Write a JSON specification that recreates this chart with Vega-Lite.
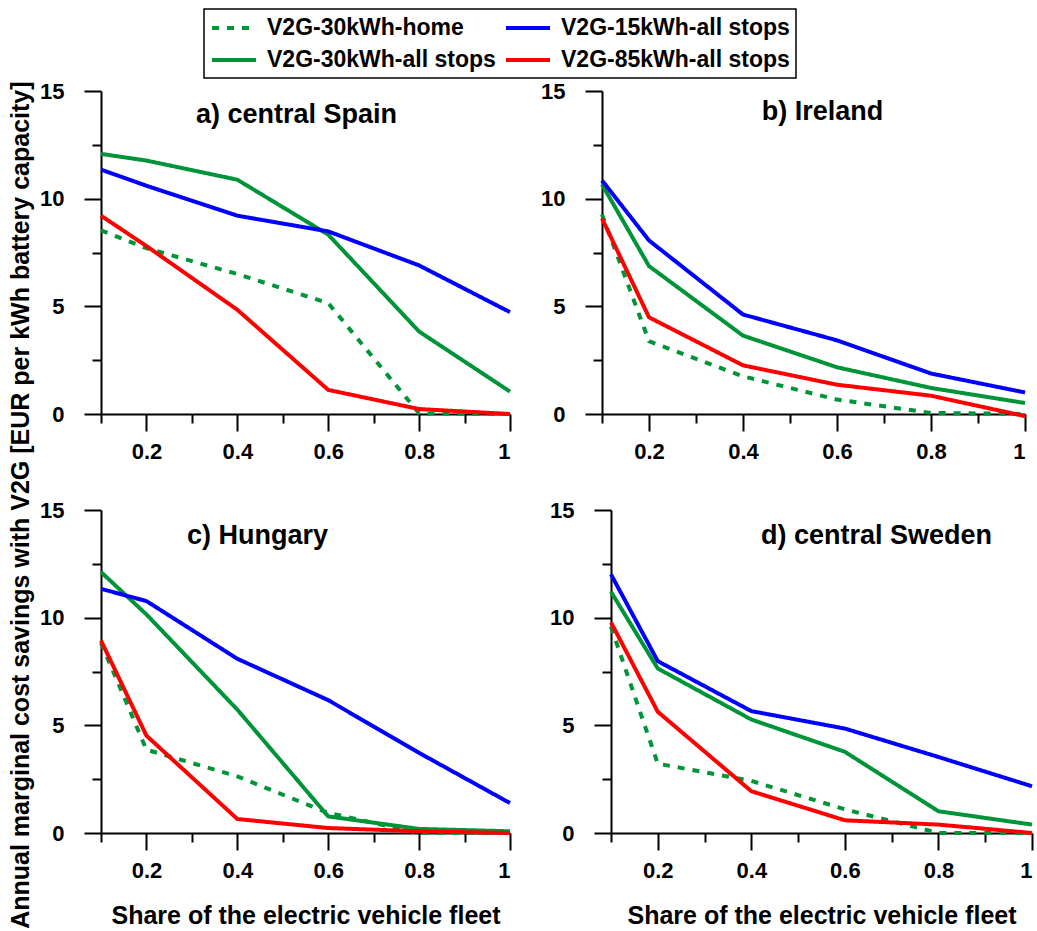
{
  "$schema": "https://vega.github.io/schema/vega-lite/v6.json",
  "background": "white",
  "padding": {"left": 8, "top": 8, "right": 0, "bottom": 0},
  "title": {"text": "Annual marginal cost savings with V2G [EUR per kWh battery capacity]", "orient": "left", "anchor": "middle", "frame": "bounds", "dx": -37, "fontSize": 25, "font": "Liberation Sans", "fontWeight": "bold", "color": "black", "offset": 6},
  "datasets": {
    "v2g": [
      {"region":"Spain","series":"V2G-30kWh-home","share":0.1,"value":8.53},
      {"region":"Spain","series":"V2G-30kWh-home","share":0.2,"value":7.7},
      {"region":"Spain","series":"V2G-30kWh-home","share":0.4,"value":6.5},
      {"region":"Spain","series":"V2G-30kWh-home","share":0.6,"value":5.15},
      {"region":"Spain","series":"V2G-30kWh-home","share":0.8,"value":0.03},
      {"region":"Spain","series":"V2G-30kWh-home","share":1,"value":0},
      {"region":"Spain","series":"V2G-30kWh-all stops","share":0.1,"value":12.08},
      {"region":"Spain","series":"V2G-30kWh-all stops","share":0.2,"value":11.77},
      {"region":"Spain","series":"V2G-30kWh-all stops","share":0.4,"value":10.88},
      {"region":"Spain","series":"V2G-30kWh-all stops","share":0.6,"value":8.33},
      {"region":"Spain","series":"V2G-30kWh-all stops","share":0.8,"value":3.83},
      {"region":"Spain","series":"V2G-30kWh-all stops","share":1,"value":1.04},
      {"region":"Spain","series":"V2G-15kWh-all stops","share":0.1,"value":11.35},
      {"region":"Spain","series":"V2G-15kWh-all stops","share":0.2,"value":10.6},
      {"region":"Spain","series":"V2G-15kWh-all stops","share":0.4,"value":9.21},
      {"region":"Spain","series":"V2G-15kWh-all stops","share":0.6,"value":8.48},
      {"region":"Spain","series":"V2G-15kWh-all stops","share":0.8,"value":6.9},
      {"region":"Spain","series":"V2G-15kWh-all stops","share":1,"value":4.73},
      {"region":"Spain","series":"V2G-85kWh-all stops","share":0.1,"value":9.21},
      {"region":"Spain","series":"V2G-85kWh-all stops","share":0.2,"value":7.8},
      {"region":"Spain","series":"V2G-85kWh-all stops","share":0.4,"value":4.84},
      {"region":"Spain","series":"V2G-85kWh-all stops","share":0.6,"value":1.12},
      {"region":"Spain","series":"V2G-85kWh-all stops","share":0.8,"value":0.23},
      {"region":"Spain","series":"V2G-85kWh-all stops","share":1,"value":0},

      {"region":"Ireland","series":"V2G-30kWh-home","share":0.1,"value":9.27},
      {"region":"Ireland","series":"V2G-30kWh-home","share":0.2,"value":3.38},
      {"region":"Ireland","series":"V2G-30kWh-home","share":0.4,"value":1.75},
      {"region":"Ireland","series":"V2G-30kWh-home","share":0.6,"value":0.67},
      {"region":"Ireland","series":"V2G-30kWh-home","share":0.8,"value":0.05},
      {"region":"Ireland","series":"V2G-30kWh-home","share":1,"value":0},
      {"region":"Ireland","series":"V2G-30kWh-all stops","share":0.1,"value":10.66},
      {"region":"Ireland","series":"V2G-30kWh-all stops","share":0.2,"value":6.87},
      {"region":"Ireland","series":"V2G-30kWh-all stops","share":0.4,"value":3.64},
      {"region":"Ireland","series":"V2G-30kWh-all stops","share":0.6,"value":2.17},
      {"region":"Ireland","series":"V2G-30kWh-all stops","share":0.8,"value":1.21},
      {"region":"Ireland","series":"V2G-30kWh-all stops","share":1,"value":0.51},
      {"region":"Ireland","series":"V2G-15kWh-all stops","share":0.1,"value":10.85},
      {"region":"Ireland","series":"V2G-15kWh-all stops","share":0.2,"value":8.06},
      {"region":"Ireland","series":"V2G-15kWh-all stops","share":0.4,"value":4.62},
      {"region":"Ireland","series":"V2G-15kWh-all stops","share":0.6,"value":3.42},
      {"region":"Ireland","series":"V2G-15kWh-all stops","share":0.8,"value":1.88},
      {"region":"Ireland","series":"V2G-15kWh-all stops","share":1,"value":1.0},
      {"region":"Ireland","series":"V2G-85kWh-all stops","share":0.1,"value":9.08},
      {"region":"Ireland","series":"V2G-85kWh-all stops","share":0.2,"value":4.49},
      {"region":"Ireland","series":"V2G-85kWh-all stops","share":0.4,"value":2.26},
      {"region":"Ireland","series":"V2G-85kWh-all stops","share":0.6,"value":1.36},
      {"region":"Ireland","series":"V2G-85kWh-all stops","share":0.8,"value":0.85},
      {"region":"Ireland","series":"V2G-85kWh-all stops","share":1,"value":-0.1},

      {"region":"Hungary","series":"V2G-30kWh-home","share":0.1,"value":8.83},
      {"region":"Hungary","series":"V2G-30kWh-home","share":0.2,"value":3.87},
      {"region":"Hungary","series":"V2G-30kWh-home","share":0.4,"value":2.63},
      {"region":"Hungary","series":"V2G-30kWh-home","share":0.6,"value":0.93},
      {"region":"Hungary","series":"V2G-30kWh-home","share":0.8,"value":0},
      {"region":"Hungary","series":"V2G-30kWh-home","share":1,"value":0},
      {"region":"Hungary","series":"V2G-30kWh-all stops","share":0.1,"value":12.12},
      {"region":"Hungary","series":"V2G-30kWh-all stops","share":0.2,"value":10.15},
      {"region":"Hungary","series":"V2G-30kWh-all stops","share":0.4,"value":5.73},
      {"region":"Hungary","series":"V2G-30kWh-all stops","share":0.6,"value":0.77},
      {"region":"Hungary","series":"V2G-30kWh-all stops","share":0.8,"value":0.19},
      {"region":"Hungary","series":"V2G-30kWh-all stops","share":1,"value":0.08},
      {"region":"Hungary","series":"V2G-15kWh-all stops","share":0.1,"value":11.34},
      {"region":"Hungary","series":"V2G-15kWh-all stops","share":0.2,"value":10.77},
      {"region":"Hungary","series":"V2G-15kWh-all stops","share":0.4,"value":8.09},
      {"region":"Hungary","series":"V2G-15kWh-all stops","share":0.6,"value":6.17},
      {"region":"Hungary","series":"V2G-15kWh-all stops","share":0.8,"value":3.72},
      {"region":"Hungary","series":"V2G-15kWh-all stops","share":1,"value":1.39},
      {"region":"Hungary","series":"V2G-85kWh-all stops","share":0.1,"value":8.94},
      {"region":"Hungary","series":"V2G-85kWh-all stops","share":0.2,"value":4.52},
      {"region":"Hungary","series":"V2G-85kWh-all stops","share":0.4,"value":0.65},
      {"region":"Hungary","series":"V2G-85kWh-all stops","share":0.6,"value":0.23},
      {"region":"Hungary","series":"V2G-85kWh-all stops","share":0.8,"value":0.08},
      {"region":"Hungary","series":"V2G-85kWh-all stops","share":1,"value":0},

      {"region":"Sweden","series":"V2G-30kWh-home","share":0.1,"value":9.58},
      {"region":"Sweden","series":"V2G-30kWh-home","share":0.2,"value":3.22},
      {"region":"Sweden","series":"V2G-30kWh-home","share":0.4,"value":2.42},
      {"region":"Sweden","series":"V2G-30kWh-home","share":0.6,"value":1.1},
      {"region":"Sweden","series":"V2G-30kWh-home","share":0.8,"value":0},
      {"region":"Sweden","series":"V2G-30kWh-home","share":1,"value":0},
      {"region":"Sweden","series":"V2G-30kWh-all stops","share":0.1,"value":11.2},
      {"region":"Sweden","series":"V2G-30kWh-all stops","share":0.2,"value":7.64},
      {"region":"Sweden","series":"V2G-30kWh-all stops","share":0.4,"value":5.27},
      {"region":"Sweden","series":"V2G-30kWh-all stops","share":0.6,"value":3.77},
      {"region":"Sweden","series":"V2G-30kWh-all stops","share":0.8,"value":1.01},
      {"region":"Sweden","series":"V2G-30kWh-all stops","share":1,"value":0.39},
      {"region":"Sweden","series":"V2G-15kWh-all stops","share":0.1,"value":12.01},
      {"region":"Sweden","series":"V2G-15kWh-all stops","share":0.2,"value":7.98},
      {"region":"Sweden","series":"V2G-15kWh-all stops","share":0.4,"value":5.66},
      {"region":"Sweden","series":"V2G-15kWh-all stops","share":0.6,"value":4.85},
      {"region":"Sweden","series":"V2G-15kWh-all stops","share":0.8,"value":3.53},
      {"region":"Sweden","series":"V2G-15kWh-all stops","share":1,"value":2.17},
      {"region":"Sweden","series":"V2G-85kWh-all stops","share":0.1,"value":9.78},
      {"region":"Sweden","series":"V2G-85kWh-all stops","share":0.2,"value":5.63},
      {"region":"Sweden","series":"V2G-85kWh-all stops","share":0.4,"value":1.94},
      {"region":"Sweden","series":"V2G-85kWh-all stops","share":0.6,"value":0.59},
      {"region":"Sweden","series":"V2G-85kWh-all stops","share":0.8,"value":0.39},
      {"region":"Sweden","series":"V2G-85kWh-all stops","share":1,"value":0}
    ]
  },
  "data": {"name": "v2g"},
  "spacing": 37,
  "vconcat": [
    {
      "spacing": 22,
      "hconcat": [
        {
          "width": 409, "height": 323,
          "title": {"text": "a) central Spain", "dx": -9, "dy": 53},
          "transform": [{"filter": "datum.region == 'Spain'"}],
          "mark": {"type": "line", "strokeWidth": 4, "clip": false},
          "encoding": {
            "x": {"field": "share", "type": "quantitative", "scale": {"domain": [0.1, 1], "nice": false, "zero": false},
                  "axis": {"title": null, "values": [0.1,0.2,0.3,0.4,0.5,0.6,0.7,0.8,0.9,1],
                           "labelExpr": "(datum.value==0.2||datum.value==0.4||datum.value==0.6||datum.value==0.8||datum.value==1) ? format(datum.value,'~g') : ''",
                           "tickSize": {"condition": {"test": "datum.value==0.2||datum.value==0.4||datum.value==0.6||datum.value==0.8||datum.value==1", "value": 17}, "value": 9}}},
            "y": {"field": "value", "type": "quantitative", "scale": {"domain": [0, 15], "nice": false},
                  "axis": {"title": null, "values": [0,2.5,5,7.5,10,12.5,15],
                           "labelExpr": "datum.value % 5 == 0 ? format(datum.value,'d') : ''",
                           "tickSize": {"condition": {"test": "datum.value % 5 == 0", "value": 17}, "value": 9}}},
            "color": {"field": "series", "type": "nominal",
                      "scale": {"domain": ["V2G-30kWh-home","V2G-30kWh-all stops","V2G-15kWh-all stops","V2G-85kWh-all stops"], "range": ["#009438","#009438","#0000ff","#ff0000"]},
                      "legend": {"title": null, "orient": "none", "legendX": 103, "legendY": -82, "columns": 2}},
            "strokeDash": {"field": "series", "type": "nominal",
                      "scale": {"domain": ["V2G-30kWh-home","V2G-30kWh-all stops","V2G-15kWh-all stops","V2G-85kWh-all stops"], "range": [[7,8],[1,0],[1,0],[1,0]]},
                      "legend": {"title": null, "orient": "none", "legendX": 103, "legendY": -82, "columns": 2}}
          }
        },
        {
          "width": 423, "height": 323,
          "title": {"text": "b) Ireland", "dx": 9, "dy": 50},
          "transform": [{"filter": "datum.region == 'Ireland'"}],
          "mark": {"type": "line", "strokeWidth": 4, "clip": false},
          "encoding": {
            "x": {"field": "share", "type": "quantitative", "scale": {"domain": [0.1, 1], "nice": false, "zero": false},
                  "axis": {"title": null, "values": [0.1,0.2,0.3,0.4,0.5,0.6,0.7,0.8,0.9,1],
                           "labelExpr": "(datum.value==0.2||datum.value==0.4||datum.value==0.6||datum.value==0.8||datum.value==1) ? format(datum.value,'~g') : ''",
                           "tickSize": {"condition": {"test": "datum.value==0.2||datum.value==0.4||datum.value==0.6||datum.value==0.8||datum.value==1", "value": 17}, "value": 9}}},
            "y": {"field": "value", "type": "quantitative", "scale": {"domain": [0, 15], "nice": false},
                  "axis": {"title": null, "values": [0,2.5,5,7.5,10,12.5,15],
                           "labelExpr": "datum.value % 5 == 0 ? format(datum.value,'d') : ''",
                           "tickSize": {"condition": {"test": "datum.value % 5 == 0", "value": 17}, "value": 9}}},
            "color": {"field": "series", "type": "nominal",
                      "scale": {"domain": ["V2G-30kWh-home","V2G-30kWh-all stops","V2G-15kWh-all stops","V2G-85kWh-all stops"], "range": ["#009438","#009438","#0000ff","#ff0000"]},
                      "legend": {"title": null, "orient": "none", "legendX": 103, "legendY": -82, "columns": 2}},
            "strokeDash": {"field": "series", "type": "nominal",
                      "scale": {"domain": ["V2G-30kWh-home","V2G-30kWh-all stops","V2G-15kWh-all stops","V2G-85kWh-all stops"], "range": [[7,8],[1,0],[1,0],[1,0]]},
                      "legend": {"title": null, "orient": "none", "legendX": 103, "legendY": -82, "columns": 2}}
          }
        }
      ]
    },
    {
      "spacing": 31,
      "hconcat": [
        {
          "width": 409, "height": 323,
          "title": {"text": "c) Hungary", "dx": -48, "dy": 55},
          "transform": [{"filter": "datum.region == 'Hungary'"}],
          "mark": {"type": "line", "strokeWidth": 4, "clip": false},
          "encoding": {
            "x": {"field": "share", "type": "quantitative", "scale": {"domain": [0.1, 1], "nice": false, "zero": false},
                  "axis": {"title": "Share of the electric vehicle fleet", "values": [0.1,0.2,0.3,0.4,0.5,0.6,0.7,0.8,0.9,1],
                           "labelExpr": "(datum.value==0.2||datum.value==0.4||datum.value==0.6||datum.value==0.8||datum.value==1) ? format(datum.value,'~g') : ''",
                           "tickSize": {"condition": {"test": "datum.value==0.2||datum.value==0.4||datum.value==0.6||datum.value==0.8||datum.value==1", "value": 17}, "value": 9}}},
            "y": {"field": "value", "type": "quantitative", "scale": {"domain": [0, 15], "nice": false},
                  "axis": {"title": null, "values": [0,2.5,5,7.5,10,12.5,15],
                           "labelExpr": "datum.value % 5 == 0 ? format(datum.value,'d') : ''",
                           "tickSize": {"condition": {"test": "datum.value % 5 == 0", "value": 17}, "value": 9}}},
            "color": {"field": "series", "type": "nominal",
                      "scale": {"domain": ["V2G-30kWh-home","V2G-30kWh-all stops","V2G-15kWh-all stops","V2G-85kWh-all stops"], "range": ["#009438","#009438","#0000ff","#ff0000"]},
                      "legend": {"title": null, "orient": "none", "legendX": 103, "legendY": -82, "columns": 2}},
            "strokeDash": {"field": "series", "type": "nominal",
                      "scale": {"domain": ["V2G-30kWh-home","V2G-30kWh-all stops","V2G-15kWh-all stops","V2G-85kWh-all stops"], "range": [[7,8],[1,0],[1,0],[1,0]]},
                      "legend": {"title": null, "orient": "none", "legendX": 103, "legendY": -82, "columns": 2}}
          }
        },
        {
          "width": 421, "height": 323,
          "title": {"text": "d) central Sweden", "dx": 55, "dy": 55},
          "transform": [{"filter": "datum.region == 'Sweden'"}],
          "mark": {"type": "line", "strokeWidth": 4, "clip": false},
          "encoding": {
            "x": {"field": "share", "type": "quantitative", "scale": {"domain": [0.1, 1], "nice": false, "zero": false},
                  "axis": {"title": "Share of the electric vehicle fleet", "values": [0.1,0.2,0.3,0.4,0.5,0.6,0.7,0.8,0.9,1],
                           "labelExpr": "(datum.value==0.2||datum.value==0.4||datum.value==0.6||datum.value==0.8||datum.value==1) ? format(datum.value,'~g') : ''",
                           "tickSize": {"condition": {"test": "datum.value==0.2||datum.value==0.4||datum.value==0.6||datum.value==0.8||datum.value==1", "value": 17}, "value": 9}}},
            "y": {"field": "value", "type": "quantitative", "scale": {"domain": [0, 15], "nice": false},
                  "axis": {"title": null, "values": [0,2.5,5,7.5,10,12.5,15],
                           "labelExpr": "datum.value % 5 == 0 ? format(datum.value,'d') : ''",
                           "tickSize": {"condition": {"test": "datum.value % 5 == 0", "value": 17}, "value": 9}}},
            "color": {"field": "series", "type": "nominal",
                      "scale": {"domain": ["V2G-30kWh-home","V2G-30kWh-all stops","V2G-15kWh-all stops","V2G-85kWh-all stops"], "range": ["#009438","#009438","#0000ff","#ff0000"]},
                      "legend": {"title": null, "orient": "none", "legendX": 103, "legendY": -82, "columns": 2}},
            "strokeDash": {"field": "series", "type": "nominal",
                      "scale": {"domain": ["V2G-30kWh-home","V2G-30kWh-all stops","V2G-15kWh-all stops","V2G-85kWh-all stops"], "range": [[7,8],[1,0],[1,0],[1,0]]},
                      "legend": {"title": null, "orient": "none", "legendX": 103, "legendY": -82, "columns": 2}}
          }
        }
      ]
    }
  ],
  "resolve": {"scale": {"color": "shared", "strokeDash": "shared"}},
  "config": {
    "view": {"stroke": null},
    "font": "Liberation Sans",
    "title": {"font": "Liberation Sans", "fontSize": 27, "fontWeight": "bold", "color": "black", "anchor": "middle", "frame": "group", "offset": 0, "baseline": "alphabetic"},
    "axis": {"grid": false, "domainColor": "black", "domainWidth": 2, "tickColor": "black", "tickWidth": 2,
             "labelFont": "Liberation Sans", "labelFontSize": 22, "labelFontWeight": "bold", "labelColor": "black",
             "titleFont": "Liberation Sans", "titleFontSize": 25, "titleFontWeight": "bold", "titleColor": "black"},
    "axisX": {"labelPadding": 10, "titlePadding": 22},
    "axisY": {"labelPadding": 20},
    "legend": {"symbolType": "M-1,0H3", "symbolSize": 484, "symbolStrokeWidth": 4, "labelFont": "Liberation Sans", "labelFontSize": 23,
               "labelFontWeight": "bold", "labelColor": "black", "labelLimit": 400, "labelOffset": 31, "rowPadding": 7, "columnPadding": 2,
               "padding": 6, "strokeColor": "black", "strokeWidth": 1.5, "fillColor": "white"}
  }
}
